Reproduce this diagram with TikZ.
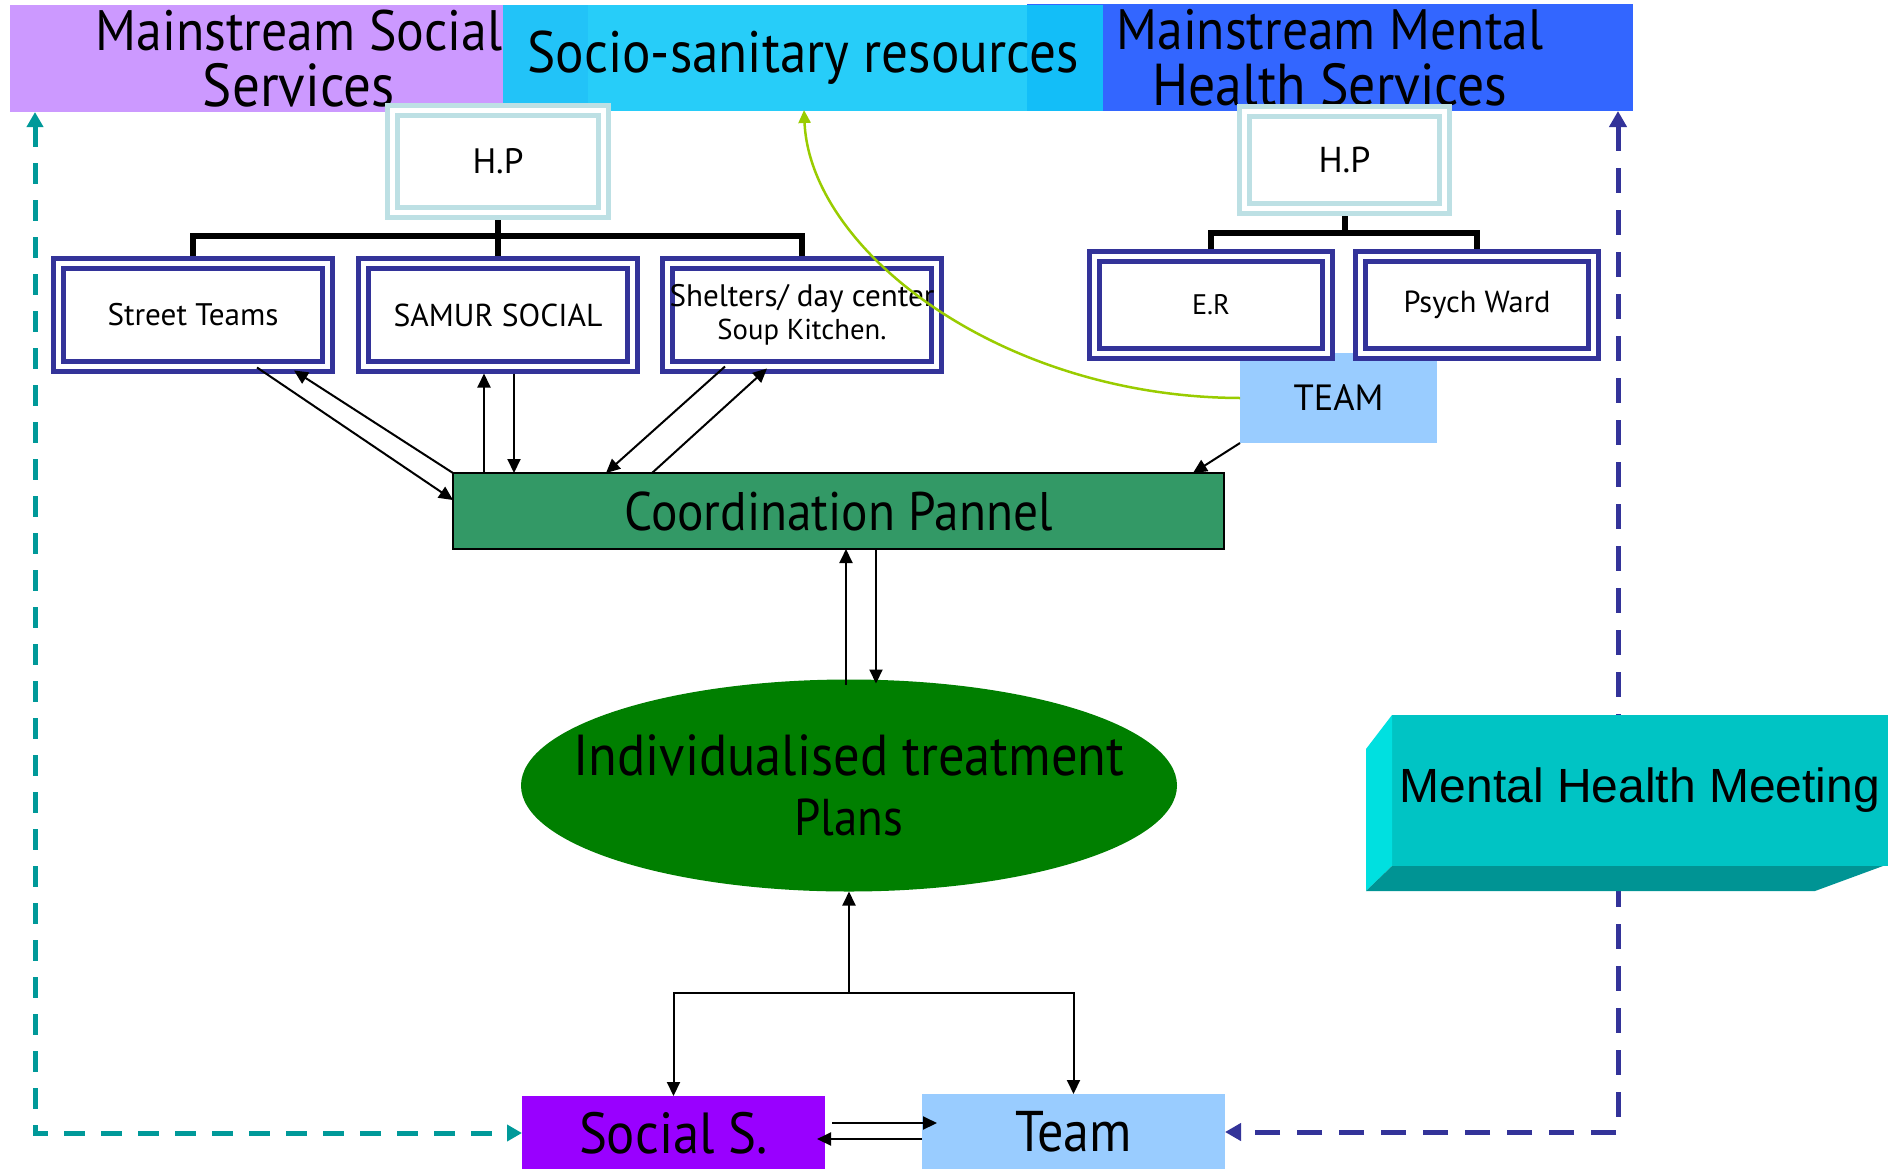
\documentclass[tikz,border=0pt]{standalone}
\usepackage{fontspec}
\usepackage{graphicx}
\setmainfont{PT Sans}
\newfontfamily\arialfont{Liberation Sans}
\usetikzlibrary{arrows.meta,calc,shapes.geometric}

\definecolor{cpurple}{HTML}{CC99FF}
\definecolor{cblue}{HTML}{3366FF}
\definecolor{ccyan}{HTML}{10C8F8}
\definecolor{chp}{HTML}{BDE0E4}
\definecolor{cnavy}{HTML}{333399}
\definecolor{cteam}{HTML}{99CCFF}
\definecolor{ccoord}{HTML}{339966}
\definecolor{cplan}{HTML}{007F00}
\definecolor{csocial}{HTML}{9900FF}
\definecolor{clime}{HTML}{99CC00}
\definecolor{cteal}{HTML}{009999}
\definecolor{cmfront}{HTML}{00C4C4}
\definecolor{cmside}{HTML}{00E0E0}
\definecolor{cmbottom}{HTML}{009494}

% scale a label to a given width (in pt)
\newcommand\fitto[2]{\resizebox{#1pt}{!}{#2}}
% same, slightly taller for the big headings
\newcommand\fittall[2]{\scalebox{1}[1.1]{\resizebox{#1pt}{!}{#2}}}

\begin{document}
\begin{tikzpicture}[x=1pt,y=-1pt,
  every node/.style={inner sep=0pt,outer sep=0pt,align=center},
  banner/.style={font=\fontsize{44}{56}\selectfont},
  hpbox/.style={draw=chp,line width=5pt,double=white,double distance=5pt,fill=white,
    font=\fontsize{34}{40}\selectfont},
  dbox/.style={draw=cnavy,line width=5pt,double=white,double distance=5pt,fill=white,
    minimum width=269pt,minimum height=103pt,font=\fontsize{26}{33}\selectfont},
  flat/.style={font=\fontsize{44}{60}\selectfont},
  bracket/.style={draw=black,line width=6pt},
  arr/.style={draw=black,line width=2pt,-{Triangle[length=14pt,width=13pt]}},
  tealdash/.style={draw=cteal,line width=5pt,dash pattern=on 21pt off 16pt,
    {Triangle[length=15pt,width=16pt]}-{Triangle[length=15pt,width=16pt]}},
  navydash/.style={draw=cnavy,line width=5pt,dash pattern=on 25pt off 17pt,
    {Triangle[length=16pt,width=17pt]}-{Triangle[length=16pt,width=17pt]}},
  limecurve/.style={draw=clime,line width=2.5pt,-{Triangle[length=13pt,width=12pt]}}
]
\useasboundingbox (0,0) rectangle (1888,1168);

% ---- service banners ----
\node[banner,fill=cpurple,minimum width=578pt,minimum height=107pt] (ms) at (299,58.5)
  {\fittall{407}{Mainstream Social}\\\fittall{192}{Services}};
\node[banner,fill=cblue,minimum width=606pt,minimum height=107pt] (mh) at (1330,57.5)
  {\fittall{427}{Mainstream Mental}\\\fittall{355}{Health Services}};
\node[banner,fill=ccyan,fill opacity=0.9,text opacity=1,minimum width=600pt,minimum height=106pt] (so) at (803,58)
  {\fittall{551}{Socio-sanitary resources}};

% ---- hierarchy under the social services ----
\node[hpbox,minimum width=211pt,minimum height=102pt] (hpa) at (498,161.5) {\fitto{51}{H.P}};
\node[dbox] (st) at (193,315) {\fitto{171}{Street Teams}};
\node[dbox] (sa) at (498,315) {\fitto{209}{SAMUR SOCIAL}};
\node[dbox] (sh) at (802,315) {\fitto{265}{Shelters/ day center}\\\fitto{169}{Soup Kitchen.}};

% ---- hierarchy under the mental health services ----
\node[hpbox,minimum width=200pt,minimum height=97pt] (hpb) at (1344.5,160) {\fitto{52}{H.P}};
\node[fill=cteam,minimum width=197pt,minimum height=90pt,font=\fontsize{34}{40}\selectfont] (tm) at (1338.5,398) {\fitto{90}{TEAM}};
\node[dbox,minimum width=233pt,minimum height=97pt] (er) at (1211,305) {\fitto{38}{E.R}};
\node[dbox,minimum width=233pt,minimum height=97pt] (pw) at (1477,305) {\fitto{147}{Psych Ward}};

% ---- central chain ----
\node[flat,draw=black,line width=2.5pt,fill=ccoord,minimum width=771pt,minimum height=76pt] (co) at (838.5,511)
  {\fittall{428}{Coordination Pannel}};
\node[flat,ellipse,fill=cplan,inner xsep=-44pt,minimum width=656pt,minimum height=212pt] (ip) at (849,785.5)
  {\fittall{551}{Individualised treatment}\\\fittall{109}{Plans}};
\node[flat,fill=csocial,minimum width=303pt,minimum height=74pt] (ss) at (673.5,1133) {\fittall{189}{Social S.}};
\node[flat,fill=cteam,minimum width=303pt,minimum height=76pt] (tb) at (1073.5,1132) {\fittall{117}{Team}};

% ---- org-chart brackets ----
\coordinate (ba) at (498,236);
\coordinate (bb) at (1345,233);
\draw[bracket] ($(st.north)+(0,-7.5)$) -- (st.north |- ba) -- (sh.north |- ba) -- ($(sh.north)+(0,-7.5)$);
\draw[bracket] ($(hpa.south)+(0,7.5)$) -- ($(sa.north)+(0,-7.5)$);
\draw[bracket] ($(er.north)+(0,-7.5)$) -- (er.north |- bb) -- (pw.north |- bb) -- ($(pw.north)+(0,-7.5)$);
\draw[bracket] ($(hpb.south)+(0,7.5)$) -- (hpb.south |- bb);

% ---- links to the coordination panel ----
\draw[arr] ($(st.south)+(64,1)$) -- ($(co.west)+(0,-11)$);
\draw[arr] (co.north west) -- ($(st.south)+(101,4)$);
\draw[arr] ($(co.north west)+(31,0)$) -- ($(sa.south)+(-14,7)$);
\draw[arr] ($(sa.south)+(16,7)$) -- ($(co.north west)+(61,0)$);
\draw[arr] ($(sh.south)+(-77,0)$) -- ($(co.north west)+(153,0)$);
\draw[arr] ($(co.north west)+(199,0)$) -- ($(sh.south)+(-35,2)$);
\draw[arr] (tm.south west) -- ($(co.north east)+(-31,0)$);

% ---- panel and treatment plans ----
\draw[arr] ($(ip.north)+(-3,5)$) -- ($(co.south)+(7.5,0)$);
\draw[arr] ($(co.south)+(37.5,0)$) -- ($(ip.north)+(27,4)$);

% ---- plans, social services and team ----
\coordinate (j) at ($(ip.south)+(0,101.5)$);
\draw[arr] (j) -- (ip.south);
\draw[arr] (j) -| (ss.north);
\draw[arr] (j) -| (tb.north);
\draw[arr] ($(ss.east)+(7,-10)$) -- ($(tb.west)+(15,-9)$);
\draw[arr] ($(tb.west)+(0,7)$) -- ($(ss.east)+(-8,6)$);

% ---- TEAM feeds the socio-sanitary resources ----
\draw[limecurve] (tm.west) .. controls (1000,397) and (810,250) .. ($(so.south)+(1,-1)$);

% ---- dashed return paths ----
\draw[tealdash] ($(ms.south west)+(25,0)$) |- (ss.west);
\draw[navydash] ($(mh.south east)+(-15,0)$) |- (tb.east);

% ---- mental health meeting block ----
\node[fill=cmfront,minimum width=496pt,minimum height=151pt,font=\arialfont\fontsize{48}{58}\selectfont] (mm) at (1640,790.5)
  {Mental Health Meeting};
\fill[cmside] (mm.north west) -- (mm.south west) -- ($(mm.south west)+(-26,25)$) -- ($(mm.north west)+(-26,34)$) -- cycle;
\fill[cmbottom] (mm.south west) -- ($(mm.south east)+(-5,0)$) -- ($(mm.south east)+(-73,25)$) -- ($(mm.south west)+(-26,25)$) -- cycle;
\end{tikzpicture}
\end{document}
